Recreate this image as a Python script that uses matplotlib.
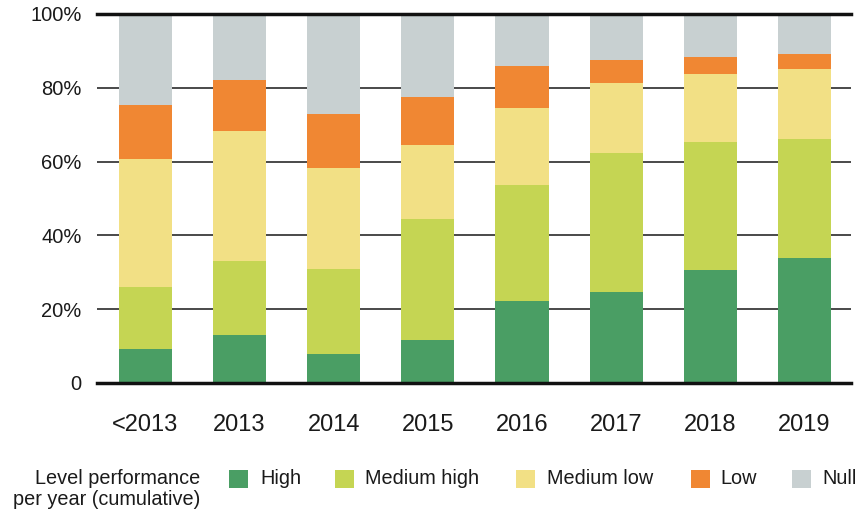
import matplotlib
matplotlib.use("Agg")
import matplotlib.pyplot as plt
from matplotlib.patches import Rectangle
import numpy as np

plt.rcParams['font.family'] = ['Liberation Sans', 'DejaVu Sans']

categories = ["<2013", "2013", "2014", "2015", "2016", "2017", "2018", "2019"]
series_names = ["High", "Medium high", "Medium low", "Low", "Null"]
# per-segment shares (%)
high        = [9.3, 13.1, 7.9, 11.7, 22.3, 24.7, 30.7, 33.9]
medium_high = [16.8, 20.0, 23.1, 32.8, 31.4, 37.7, 34.6, 32.3]
medium_low  = [34.7, 35.3, 27.3, 20.1, 20.8, 18.9, 18.5, 18.9]
low         = [14.6, 13.8, 14.7, 13.0, 11.4, 6.2, 4.6, 4.1]
null        = [24.6, 17.8, 27.0, 22.4, 14.1, 12.5, 11.6, 10.8]
yticks = [0, 20, 40, 60, 80, 100]
ytick_labels = ["0", "20%", "40%", "60%", "80%", "100%"]
legend_title = "Level performance\nper year (cumulative)"

colors = ["#4a9e64", "#c5d553", "#f2e085", "#f08733", "#c8d0d1"]

W, H = 858, 515
fig = plt.figure(figsize=(W / 100, H / 100), dpi=100)
ax = fig.add_axes([97 / W, 132 / H, (851 - 97) / W, (501 - 132) / H])

x = np.arange(len(categories))
bottom = np.zeros(len(categories))
for vals, c in zip([high, medium_high, medium_low, low, null], colors):
    ax.bar(x, vals, bottom=bottom, width=0.565, color=c, zorder=2, linewidth=0)
    bottom += np.array(vals)

ax.set_xlim(-0.515, 7.495)
ax.set_ylim(0, 100)
ax.set_yticks(yticks)
ax.set_yticklabels(ytick_labels, fontsize=14.5)
ax.set_xticks(x)
ax.set_xticklabels(categories, fontsize=17)
ax.tick_params(axis='x', length=0, pad=22, colors="#1a1a1a")
ax.tick_params(axis='y', length=0, pad=11, colors="#1a1a1a")
ax.yaxis.grid(True, color="#2a2a2a", linewidth=1.2, zorder=1)
ax.set_axisbelow(True)
for s in ["left", "right"]:
    ax.spines[s].set_visible(False)
for s in ["top", "bottom"]:
    ax.spines[s].set_linewidth(2.5)
    ax.spines[s].set_color("#111111")
    ax.spines[s].set_zorder(3)

# legend (manual layout in figure pixels)
fig.text(200 / W, 1 - 489 / H, legend_title, ha="right", va="center",
         fontsize=14.3, color="#1a1a1a", linespacing=1.15)
patch_x = [229, 335, 516, 691, 792]
text_x = [260, 365, 547, 720, 822]
for name, c, px, tx in zip(series_names, colors, patch_x, text_x):
    fig.patches.append(Rectangle((px / W, 1 - 488 / H), 19 / W, 18 / H,
                                 transform=fig.transFigure, color=c, linewidth=0))
    fig.text(tx / W, 1 - 479 / H, name, ha="left", va="center",
             fontsize=14.3, color="#1a1a1a")

fig.savefig("out.png", dpi=100)
